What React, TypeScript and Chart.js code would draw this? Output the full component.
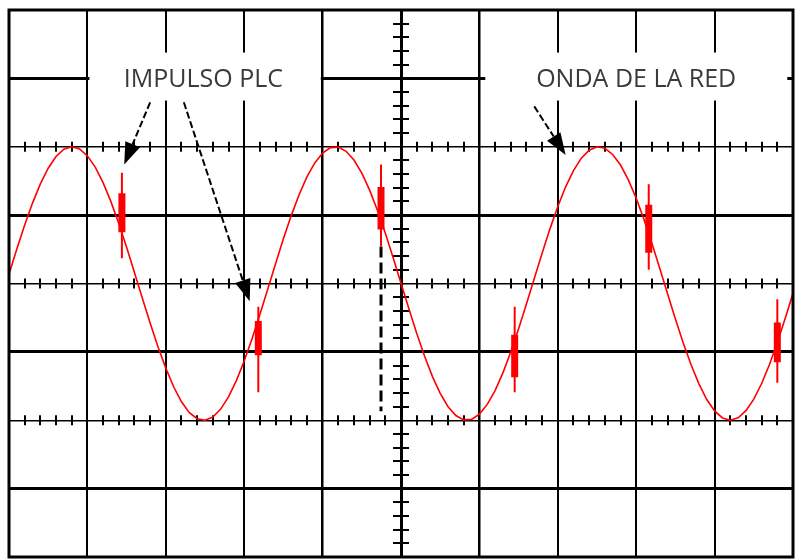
import React, { useEffect, useRef } from "react";
import { Chart, registerables } from "chart.js";

Chart.register(...registerables);

// Screen: 10 horizontal divisions, 8 vertical divisions (centre = 0)
const xDivisions = [0, 10];
const yDivisions = [-4, 4];
const sampleStep = 0.1; // divisions between wave samples

// Mains waveform, read every 0.1 division (in vertical divisions)
const waveValues = [
  0.135, 0.504, 0.855, 1.176, 1.456, 1.686, 1.857, 1.963, 2.0, 1.967,
  1.866, 1.702, 1.475, 1.197, 0.879, 0.53, 0.161, -0.212, -0.578, -0.924,
  -1.238, -1.51, -1.73, -1.889, -1.977, -1.999, -1.952, -1.837, -1.658, -1.421,
  -1.134, -0.808, -0.453, -0.083, 0.29, 0.653, 0.993, 1.299, 1.559, 1.764,
  1.909, 1.987, 1.995, 1.933, 1.805, 1.613, 1.365, 1.068, 0.735, 0.377,
  0.005, -0.367, -0.727, -1.06, -1.358, -1.607, -1.802, -1.931, -1.994, -1.987,
  -1.91, -1.768, -1.566, -1.307, -1.002, -0.662, -0.3, 0.073, 0.444, 0.799,
  1.126, 1.414, 1.652, 1.833, 1.95, 1.999, 1.978, 1.887, 1.733, 1.515,
  1.246, 0.934, 0.588, 0.222, -0.151, -0.52, -0.869, -1.189, -1.468, -1.697,
  -1.864, -1.966, -2.0, -1.965, -1.86, -1.692, -1.463, -1.184, -0.863, -0.513,
  -0.144,
];

// PLC impulses (bursts riding on the waveform)
const impulseX = [1.44, 3.18, 4.745, 6.45, 8.16, 9.8];
const spikeTop = [1.62, -0.34, 1.74, -0.34, 1.45, -0.23];
const spikeBottom = [0.37, -1.59, 0.54, -1.59, 0.2, -1.45];
const burstTop = [1.32, -0.55, 1.41, -0.75, 1.15, -0.57];
const burstBottom = [0.75, -1.05, 0.79, -1.37, 0.45, -1.15];

// Dashed cursor line
const cursorX = [4.745, 4.745];
const cursorY = [0.54, -1.87];

// Annotations (in division units)
const labelTexts = ["IMPULSO PLC", "ONDA DE LA RED"];
const labelCenterX = [2.48, 8.0];
const labelCenterY = [3.0, 3.0];
const labelBoxX0 = [1.0, 6.05];
const labelBoxX1 = [3.99, 9.94];
const labelBoxY0 = [2.676, 2.676];
const labelBoxY1 = [3.378, 3.378];

const arrowFromX = [1.8, 2.23, 6.7];
const arrowFromY = [2.65, 2.65, 2.59];
const arrowToX = [1.47, 3.07, 7.1];
const arrowToY = [1.74, -0.26, 1.88];

const scopePlugin = {
  id: "scope",
  beforeDatasetsDraw(chart: any) {
    const { ctx, scales } = chart;
    const xs = scales.x;
    const ys = scales.y;
    ctx.save();
    ctx.strokeStyle = "#000";
    ctx.lineWidth = 2;
    // small ticks on horizontal lines at 0, +2, -2
    [0, 2, -2].forEach((yv) => {
      const py = ys.getPixelForValue(yv);
      for (let k = 1; k < 50; k++) {
        if (k % 5 === 0) continue;
        const px = Math.round(xs.getPixelForValue(k * 0.2));
        ctx.beginPath();
        ctx.moveTo(px, py - 5);
        ctx.lineTo(px, py + 5);
        ctx.stroke();
      }
    });
    // small ticks on the vertical centre line
    const cx = xs.getPixelForValue(5);
    for (let k = 1; k < 40; k++) {
      if (k % 5 === 0) continue;
      const py = Math.round(ys.getPixelForValue(-4 + k * 0.2));
      ctx.beginPath();
      ctx.moveTo(cx - 8, py);
      ctx.lineTo(cx + 8, py);
      ctx.stroke();
    }
    ctx.restore();
  },
  afterDatasetsDraw(chart: any) {
    const { ctx, scales } = chart;
    const xs = scales.x;
    const ys = scales.y;
    ctx.save();
    // label boxes and text
    const fontSize = 25;
    labelTexts.forEach((t, i) => {
      const x0 = xs.getPixelForValue(labelBoxX0[i]);
      const x1 = xs.getPixelForValue(labelBoxX1[i]);
      const y0 = ys.getPixelForValue(labelBoxY1[i]);
      const y1 = ys.getPixelForValue(labelBoxY0[i]);
      ctx.fillStyle = "#fff";
      ctx.fillRect(x0 + 2, y0, x1 - x0 - 3, y1 - y0);
      ctx.fillStyle = "#3a3a3a";
      ctx.font = `${fontSize}px "Open Sans", "Noto Sans", sans-serif`;
      ctx.textAlign = "center";
      ctx.textBaseline = "alphabetic";
      ctx.fillText(
        t,
        xs.getPixelForValue(labelCenterX[i]),
        ys.getPixelForValue(labelCenterY[i]) + fontSize * 0.357
      );
    });
    // arrows
    arrowFromX.forEach((_, i) => {
      const ax = xs.getPixelForValue(arrowFromX[i]);
      const ay = ys.getPixelForValue(arrowFromY[i]);
      const bx = xs.getPixelForValue(arrowToX[i]);
      const by = ys.getPixelForValue(arrowToY[i]);
      const ang = Math.atan2(by - ay, bx - ax);
      const headLen = 22;
      const headW = 8;
      const baseX = bx - headLen * Math.cos(ang);
      const baseY = by - headLen * Math.sin(ang);
      ctx.strokeStyle = "#000";
      ctx.lineWidth = 2;
      ctx.setLineDash([7, 3]);
      ctx.beginPath();
      ctx.moveTo(ax, ay);
      ctx.lineTo(baseX, baseY);
      ctx.stroke();
      ctx.setLineDash([]);
      ctx.fillStyle = "#000";
      ctx.beginPath();
      ctx.moveTo(bx, by);
      ctx.lineTo(baseX + headW * Math.sin(ang), baseY - headW * Math.cos(ang));
      ctx.lineTo(baseX - headW * Math.sin(ang), baseY + headW * Math.cos(ang));
      ctx.closePath();
      ctx.fill();
    });
    ctx.restore();
  },
  afterDraw(chart: any) {
    const { ctx, chartArea } = chart;
    ctx.save();
    ctx.strokeStyle = "#000";
    ctx.lineWidth = 3;
    ctx.strokeRect(
      chartArea.left,
      chartArea.top,
      chartArea.right - chartArea.left,
      chartArea.bottom - chartArea.top
    );
    ctx.restore();
  },
};

export default function App() {
  const canvasRef = useRef<HTMLCanvasElement | null>(null);

  useEffect(() => {
    if (!canvasRef.current) return;
    const wave = waveValues.map((v, i) => ({ x: +(i * sampleStep).toFixed(2), y: v }));
    const spikes: any[] = [];
    const bursts: any[] = [];
    impulseX.forEach((x, i) => {
      spikes.push({ x, y: spikeTop[i] }, { x, y: spikeBottom[i] }, { x, y: null });
      bursts.push({ x, y: burstTop[i] }, { x, y: burstBottom[i] }, { x, y: null });
    });
    const cursor = cursorX.map((x, i) => ({ x, y: cursorY[i] }));

    const edgeX = (v: number) => v === xDivisions[0] || v === xDivisions[1];
    const edgeY = (v: number) => v === yDivisions[0] || v === yDivisions[1];

    const chart = new Chart(canvasRef.current, {
      type: "line",
      data: {
        datasets: [
          {
            label: "Onda de la red",
            data: wave,
            borderColor: "#ff0000",
            borderWidth: 1.6,
            pointRadius: 0,
            tension: 0,
          },
          {
            label: "Impulso PLC",
            data: spikes,
            borderColor: "#ff0000",
            borderWidth: 2,
            pointRadius: 0,
            spanGaps: false,
            borderCapStyle: "butt",
          },
          {
            label: "Impulso PLC ráfaga",
            data: bursts,
            borderColor: "#ff0000",
            borderWidth: 7,
            pointRadius: 0,
            spanGaps: false,
            borderCapStyle: "butt",
          },
          {
            label: "Cursor",
            data: cursor,
            borderColor: "#000",
            borderWidth: 3,
            borderDash: [11, 5],
            pointRadius: 0,
          },
        ],
      } as any,
      options: {
        animation: false,
        responsive: false,
        maintainAspectRatio: false,
        layout: { padding: { left: 9, top: 10, right: 4, bottom: 3 } },
        plugins: {
          legend: { display: false },
          tooltip: { enabled: false },
          title: { display: false },
        },
        scales: {
          x: {
            type: "linear",
            min: xDivisions[0],
            max: xDivisions[1],
            ticks: { display: false, stepSize: 1 },
            border: { display: false },
            grid: {
              drawTicks: false,
              color: (c: any) => (edgeX(c.tick.value) ? "rgba(0,0,0,0)" : "#000"),
              lineWidth: (c: any) => {
                const v = c.tick.value;
                if (v === 5) return 3;
                if (v === 4 || v === 6) return 2.5;
                return 2;
              },
            },
          },
          y: {
            type: "linear",
            min: yDivisions[0],
            max: yDivisions[1],
            ticks: { display: false, stepSize: 1 },
            border: { display: false },
            grid: {
              drawTicks: false,
              color: (c: any) => (edgeY(c.tick.value) ? "rgba(0,0,0,0)" : "#000"),
              lineWidth: (c: any) => {
                const v = Math.abs(c.tick.value);
                if (v === 1 || v === 3) return 3;
                return 1.5;
              },
            },
          },
        },
      } as any,
      plugins: [scopePlugin],
    });
    return () => chart.destroy();
  }, []);

  return (
    <div style={{ position: "fixed", left: 0, top: 0, width: 797, height: 560, background: "#fff" }}>
      <canvas ref={canvasRef} width={797} height={560} />
    </div>
  );
}
